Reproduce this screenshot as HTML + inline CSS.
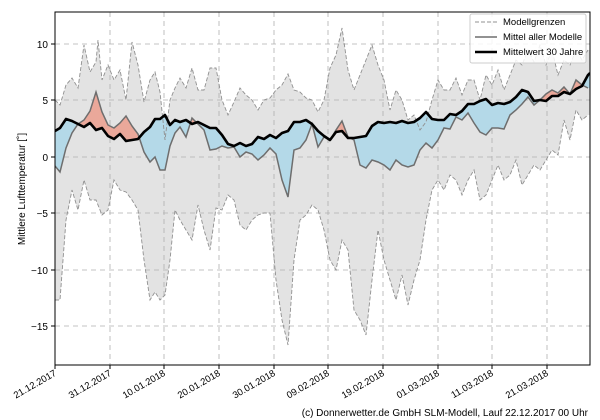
<!DOCTYPE html>
<html><head><meta charset="utf-8"><style>
html,body{margin:0;padding:0;background:#fff;width:600px;height:420px;overflow:hidden}
svg{display:block;font-family:"Liberation Sans",sans-serif}
</style></head><body>
<svg width="600" height="420" viewBox="0 0 600 420" xmlns="http://www.w3.org/2000/svg">
<defs>
<clipPath id="plot"><rect x="55" y="12" width="535" height="353"/></clipPath>
<clipPath id="aboveBlack"><polygon points="55,0 55,131 60,128 66,119 72,121 78,124 84,127 90,123 96,130 102,128 108,136 114,139 120,134 126,141 132,140 138,139 144,132 150,127 155,119 160,119 165,115 170,125 175,120 180,122 186,120 192,124 198,122 204,125 210,128 216,128 222,135 228,144 234,146 240,143 246,146 252,144 258,137 264,139 270,135 276,138 282,133 288,131 294,122 300,122 306,120 312,124 318,131 324,136 330,140 336,132 342,131 348,138 354,138 360,137 366,136 372,126 378,122 384,123 390,122 396,123 402,121 408,123 414,122 420,118 426,112 432,119 438,120 444,120 450,114 456,115 462,111 468,104 474,104 480,101 486,99 492,105 498,103 504,104 510,102 516,97 522,90 528,92 534,101 540,100 546,101 552,96 558,96 564,92 570,94 576,89 582,86 588,75 590,73 590,0"/></clipPath>
<clipPath id="belowBlack"><polygon points="55,420 55,131 60,128 66,119 72,121 78,124 84,127 90,123 96,130 102,128 108,136 114,139 120,134 126,141 132,140 138,139 144,132 150,127 155,119 160,119 165,115 170,125 175,120 180,122 186,120 192,124 198,122 204,125 210,128 216,128 222,135 228,144 234,146 240,143 246,146 252,144 258,137 264,139 270,135 276,138 282,133 288,131 294,122 300,122 306,120 312,124 318,131 324,136 330,140 336,132 342,131 348,138 354,138 360,137 366,136 372,126 378,122 384,123 390,122 396,123 402,121 408,123 414,122 420,118 426,112 432,119 438,120 444,120 450,114 456,115 462,111 468,104 474,104 480,101 486,99 492,105 498,103 504,104 510,102 516,97 522,90 528,92 534,101 540,100 546,101 552,96 558,96 564,92 570,94 576,89 582,86 588,75 590,73 590,420"/></clipPath>
</defs>
<rect width="600" height="420" fill="#fff"/>
<g clip-path="url(#plot)">
<!-- envelope -->
<polygon fill="#e3e3e3" points="55,100 60,105 66,85 72,78 78,88 84,45 90,72 96,62 98,40 102,80 108,65 114,80 120,70 126,100 132,42 138,65 144,102 150,80 155,72 160,92 165,140 170,100 175,88 180,78 186,88 192,68 198,90 204,90 210,68 216,68 222,100 228,115 234,102 240,88 246,95 252,100 258,110 264,100 270,98 276,90 282,85 288,74 294,90 300,92 306,98 312,100 318,112 324,100 330,68 336,55 342,28 348,70 354,90 360,75 366,60 372,45 378,65 384,80 390,110 396,90 402,100 408,120 414,115 420,130 426,122 432,100 438,80 444,90 450,90 456,78 462,95 468,80 474,80 480,100 486,75 492,85 498,70 504,90 510,75 516,60 522,65 528,50 534,62 540,45 546,65 552,50 558,75 564,60 570,65 576,50 582,60 588,50 590,50 590,115 588,115 582,120 576,110 570,140 564,120 558,155 552,150 546,160 540,170 534,165 528,175 522,185 516,160 510,175 504,180 498,165 492,180 486,195 480,200 474,170 468,180 462,195 456,180 450,175 444,190 438,180 432,190 426,220 420,260 414,280 408,305 402,275 396,300 390,280 384,260 378,230 372,280 366,335 360,320 354,310 348,250 342,240 336,270 330,260 324,230 318,210 312,205 306,215 300,220 294,260 288,345 282,320 276,280 270,213 264,213 258,215 252,220 246,230 240,225 234,200 228,195 222,210 216,208 210,250 204,230 198,205 192,240 186,230 180,220 175,210 170,260 165,295 160,300 155,292 150,300 144,260 138,210 132,200 126,192 120,190 114,180 108,210 102,215 96,200 90,200 84,180 78,210 72,190 66,220 60,300 55,300"/>
<!-- grid -->
<g stroke="#b0b0b0" stroke-width="0.8" stroke-dasharray="5,4">
<line x1="55" x2="590" y1="44" y2="44"/><line x1="55" x2="590" y1="100" y2="100"/><line x1="55" x2="590" y1="157" y2="157"/><line x1="55" x2="590" y1="213" y2="213"/><line x1="55" x2="590" y1="270" y2="270"/><line x1="55" x2="590" y1="326" y2="326"/>
<line y1="12" y2="365" x1="110" x2="110"/><line y1="12" y2="365" x1="164" x2="164"/><line y1="12" y2="365" x1="219" x2="219"/><line y1="12" y2="365" x1="274" x2="274"/><line y1="12" y2="365" x1="328" x2="328"/><line y1="12" y2="365" x1="383" x2="383"/><line y1="12" y2="365" x1="438" x2="438"/><line y1="12" y2="365" x1="492" x2="492"/><line y1="12" y2="365" x1="547" x2="547"/>
</g>
<!-- red fill: gray above black -->
<polygon clip-path="url(#aboveBlack)" fill="#eaa89a" points="55,420 55,166 60,172 66,148 72,133 78,124 84,120 90,111 96,92 102,112 108,125 114,128 120,123 126,116 132,126 138,134 144,152 150,162 155,157 160,170 165,170 170,146 175,133 180,127 186,137 192,118 198,124 204,130 210,150 216,149 222,146 228,148 234,147 240,157 246,152 252,154 258,160 264,155 270,148 276,154 282,180 288,197 294,150 300,148 306,140 312,124 318,147 324,137 330,140 336,130 342,121 348,137 354,140 360,165 366,168 372,160 378,162 384,165 390,170 396,160 402,165 408,167 414,165 420,150 426,143 432,148 438,140 444,128 450,129 456,117 462,120 468,113 474,123 480,132 486,135 492,128 498,128 504,129 510,115 516,110 522,104 528,97 534,105 540,100 546,94 552,90 558,93 564,87 570,94 576,80 582,85 588,88 590,88 590,420"/>
<!-- blue fill -->
<polygon clip-path="url(#belowBlack)" fill="#b4d9e8" points="55,0 55,166 60,172 66,148 72,133 78,124 84,120 90,111 96,92 102,112 108,125 114,128 120,123 126,116 132,126 138,134 144,152 150,162 155,157 160,170 165,170 170,146 175,133 180,127 186,137 192,118 198,124 204,130 210,150 216,149 222,146 228,148 234,147 240,157 246,152 252,154 258,160 264,155 270,148 276,154 282,180 288,197 294,150 300,148 306,140 312,124 318,147 324,137 330,140 336,130 342,121 348,137 354,140 360,165 366,168 372,160 378,162 384,165 390,170 396,160 402,165 408,167 414,165 420,150 426,143 432,148 438,140 444,128 450,129 456,117 462,120 468,113 474,123 480,132 486,135 492,128 498,128 504,129 510,115 516,110 522,104 528,97 534,105 540,100 546,94 552,90 558,93 564,87 570,94 576,80 582,85 588,88 590,88 590,0"/>
<!-- envelope dashed edges -->
<g fill="none" stroke="#909090" stroke-width="0.9" stroke-dasharray="4,2">
<polyline points="55,100 60,105 66,85 72,78 78,88 84,45 90,72 96,62 98,40 102,80 108,65 114,80 120,70 126,100 132,42 138,65 144,102 150,80 155,72 160,92 165,140 170,100 175,88 180,78 186,88 192,68 198,90 204,90 210,68 216,68 222,100 228,115 234,102 240,88 246,95 252,100 258,110 264,100 270,98 276,90 282,85 288,74 294,90 300,92 306,98 312,100 318,112 324,100 330,68 336,55 342,28 348,70 354,90 360,75 366,60 372,45 378,65 384,80 390,110 396,90 402,100 408,120 414,115 420,130 426,122 432,100 438,80 444,90 450,90 456,78 462,95 468,80 474,80 480,100 486,75 492,85 498,70 504,90 510,75 516,60 522,65 528,50 534,62 540,45 546,65 552,50 558,75 564,60 570,65 576,50 582,60 588,50"/>
<polyline points="55,300 60,300 66,220 72,190 78,210 84,180 90,200 96,200 102,215 108,210 114,180 120,190 126,192 132,200 138,210 144,260 150,300 155,292 160,300 165,295 170,260 175,210 180,220 186,230 192,240 198,205 204,230 210,250 216,208 222,210 228,195 234,200 240,225 246,230 252,220 258,215 264,213 270,213 276,280 282,320 288,345 294,260 300,220 306,215 312,205 318,210 324,230 330,260 336,270 342,240 348,250 354,310 360,320 366,335 372,280 378,230 384,260 390,280 396,300 402,275 408,305 414,280 420,260 426,220 432,190 438,180 444,190 450,175 456,180 462,195 468,180 474,170 480,200 486,195 492,180 498,165 504,180 510,175 516,160 522,185 528,175 534,165 540,170 546,160 552,150 558,155 564,120 570,140 576,110 582,120 588,115"/>
</g>
<!-- gray mean -->
<polyline fill="none" stroke="#6e6e6e" stroke-width="1.5" points="55,166 60,172 66,148 72,133 78,124 84,120 90,111 96,92 102,112 108,125 114,128 120,123 126,116 132,126 138,134 144,152 150,162 155,157 160,170 165,170 170,146 175,133 180,127 186,137 192,118 198,124 204,130 210,150 216,149 222,146 228,148 234,147 240,157 246,152 252,154 258,160 264,155 270,148 276,154 282,180 288,197 294,150 300,148 306,140 312,124 318,147 324,137 330,140 336,130 342,121 348,137 354,140 360,165 366,168 372,160 378,162 384,165 390,170 396,160 402,165 408,167 414,165 420,150 426,143 432,148 438,140 444,128 450,129 456,117 462,120 468,113 474,123 480,132 486,135 492,128 498,128 504,129 510,115 516,110 522,104 528,97 534,105 540,100 546,94 552,90 558,93 564,87 570,94 576,80 582,85 588,88"/>
<!-- black 30y -->
<polyline fill="none" stroke="#000" stroke-width="2.6" stroke-linejoin="round" points="55,131 60,128 66,119 72,121 78,124 84,127 90,123 96,130 102,128 108,136 114,139 120,134 126,141 132,140 138,139 144,132 150,127 155,119 160,119 165,115 170,125 175,120 180,122 186,120 192,124 198,122 204,125 210,128 216,128 222,135 228,144 234,146 240,143 246,146 252,144 258,137 264,139 270,135 276,138 282,133 288,131 294,122 300,122 306,120 312,124 318,131 324,136 330,140 336,132 342,131 348,138 354,138 360,137 366,136 372,126 378,122 384,123 390,122 396,123 402,121 408,123 414,122 420,118 426,112 432,119 438,120 444,120 450,114 456,115 462,111 468,104 474,104 480,101 486,99 492,105 498,103 504,104 510,102 516,97 522,90 528,92 534,101 540,100 546,101 552,96 558,96 564,92 570,94 576,89 582,86 588,75 590,73"/>
</g>
<!-- axes frame -->
<rect x="55" y="12" width="535" height="353" fill="none" stroke="#000" stroke-width="1"/>
<!-- y ticks -->
<g stroke="#000" stroke-width="1">
<line x1="51" x2="55" y1="44" y2="44"/><line x1="51" x2="55" y1="100" y2="100"/><line x1="51" x2="55" y1="157" y2="157"/><line x1="51" x2="55" y1="213" y2="213"/><line x1="51" x2="55" y1="270" y2="270"/><line x1="51" x2="55" y1="326" y2="326"/>
<line y1="365" y2="369" x1="55" x2="55"/><line y1="365" y2="369" x1="110" x2="110"/><line y1="365" y2="369" x1="164" x2="164"/><line y1="365" y2="369" x1="219" x2="219"/><line y1="365" y2="369" x1="274" x2="274"/><line y1="365" y2="369" x1="328" x2="328"/><line y1="365" y2="369" x1="383" x2="383"/><line y1="365" y2="369" x1="438" x2="438"/><line y1="365" y2="369" x1="492" x2="492"/><line y1="365" y2="369" x1="547" x2="547"/>
</g>
<g font-size="10" fill="#000" text-anchor="end">
<text x="48" y="48">10</text><text x="48" y="104">5</text><text x="48" y="161">0</text><text x="48" y="217">−5</text><text x="48" y="274">−10</text><text x="48" y="330">−15</text>
</g>
<g font-size="9.5" fill="#000" text-anchor="end">
<text transform="translate(57,375) rotate(-30)">21.12.2017</text>
<text transform="translate(112,375) rotate(-30)">31.12.2017</text>
<text transform="translate(166,375) rotate(-30)">10.01.2018</text>
<text transform="translate(221,375) rotate(-30)">20.01.2018</text>
<text transform="translate(276,375) rotate(-30)">30.01.2018</text>
<text transform="translate(330,375) rotate(-30)">09.02.2018</text>
<text transform="translate(385,375) rotate(-30)">19.02.2018</text>
<text transform="translate(440,375) rotate(-30)">01.03.2018</text>
<text transform="translate(494,375) rotate(-30)">11.03.2018</text>
<text transform="translate(549,375) rotate(-30)">21.03.2018</text>
</g>
<text transform="translate(25,189) rotate(-90)" font-size="10" text-anchor="middle">Mittlere Lufttemperatur [˚]</text>
<text x="588" y="416" font-size="10" text-anchor="end">(c) Donnerwetter.de GmbH SLM-Modell, Lauf 22.12.2017 00 Uhr</text>
<!-- legend -->
<rect x="470" y="14" width="116" height="49" rx="2" fill="#fff" fill-opacity="0.85" stroke="#ccc"/>
<line x1="475" x2="497" y1="22" y2="22" stroke="#909090" stroke-dasharray="4,2"/>
<line x1="475" x2="497" y1="37" y2="37" stroke="#6e6e6e" stroke-width="1.5"/>
<line x1="475" x2="497" y1="52" y2="52" stroke="#000" stroke-width="2.6"/>
<g font-size="9.5"><text x="503" y="25">Modellgrenzen</text><text x="503" y="40">Mittel aller Modelle</text><text x="503" y="55">Mittelwert 30 Jahre</text></g>
</svg>
</body></html>
